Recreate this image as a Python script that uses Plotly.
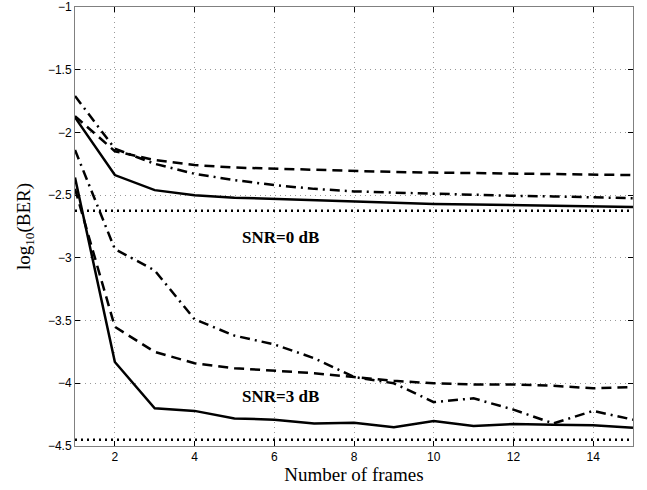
import plotly.graph_objects as go

frames = list(range(1, 16))

snr0_solid = [-1.88, -2.34, -2.46, -2.50, -2.52, -2.53, -2.545, -2.555, -2.56, -2.57, -2.575, -2.58, -2.585, -2.59, -2.595]
snr0_dash = [-1.87, -2.15, -2.22, -2.26, -2.28, -2.29, -2.30, -2.31, -2.315, -2.32, -2.325, -2.33, -2.335, -2.335, -2.34]
snr0_dashdot = [-1.71, -2.13, -2.25, -2.33, -2.38, -2.42, -2.45, -2.47, -2.48, -2.49, -2.50, -2.505, -2.51, -2.52, -2.525]

snr3_solid = [-2.36, -3.83, -4.20, -4.22, -4.28, -4.29, -4.32, -4.315, -4.35, -4.30, -4.34, -4.325, -4.33, -4.335, -4.355]
snr3_dash = [-2.45, -3.55, -3.75, -3.84, -3.88, -3.90, -3.92, -3.95, -3.98, -4.00, -4.01, -4.01, -4.02, -4.04, -4.03]
snr3_dashdot = [-2.14, -2.93, -3.10, -3.49, -3.62, -3.69, -3.80, -3.95, -4.00, -4.15, -4.12, -4.21, -4.32, -4.22, -4.29]

bound0 = -2.625
bound3 = -4.45

x_ticks = [2, 4, 6, 8, 10, 12, 14]
y_ticks = [-4.5, -4, -3.5, -3, -2.5, -2, -1.5, -1]
y_tick_text = ["\u22124.5", "\u22124", "\u22123.5", "\u22123", "\u22122.5", "\u22122", "\u22121.5", "\u22121"]

fig = go.Figure()

def add(y, dash, width=2.5):
    fig.add_trace(go.Scatter(x=frames, y=y, mode="lines",
                             line=dict(color="black", width=width, dash=dash),
                             showlegend=False, hoverinfo="skip"))

add([bound0] * len(frames), "2px,4px", 2.5)
add([bound3] * len(frames), "2px,4px", 2.5)
add(snr0_solid, "solid")
add(snr0_dash, "10px,6px")
add(snr0_dashdot, "10px,5px,2px,5px")
add(snr3_solid, "solid")
add(snr3_dash, "10px,6px")
add(snr3_dashdot, "10px,5px,2px,5px")

fig.add_annotation(x=6.16, y=-2.834, text="<b>SNR=0 dB</b>", showarrow=False,
                   font=dict(family="Liberation Serif", size=17, color="black"))
fig.add_annotation(x=6.16, y=-4.107, text="<b>SNR=3 dB</b>", showarrow=False,
                   font=dict(family="Liberation Serif", size=17, color="black"))

axis_common = dict(showline=True, mirror="ticks", linecolor="#808080", linewidth=1,
                   ticks="inside", ticklen=5, tickcolor="black",
                   showgrid=True, gridcolor="#999999", griddash="1px,4px", gridwidth=1,
                   zeroline=False, automargin=False, ticklabeloverflow="allow",
                   tickfont=dict(family="Liberation Sans", size=12, color="black"))

fig.update_xaxes(range=[1, 15], tickvals=x_ticks,
                 title=dict(text="Number of frames", standoff=0,
                            font=dict(family="Liberation Serif", size=19, color="black")),
                 **axis_common)
fig.update_yaxes(range=[-4.5, -1], tickvals=y_ticks, ticktext=y_tick_text,
                 title=dict(text="log<sub>10</sub>(BER)", standoff=12,
                            font=dict(family="Liberation Serif", size=19, color="black")),
                 **axis_common)

fig.update_layout(width=647, height=490, plot_bgcolor="white", paper_bgcolor="white",
                  margin=dict(l=75, r=14, t=7, b=44))

fig.write_html("out.html", config={"displayModeBar": False},
               post_script="document.body.style.margin='0px';document.body.style.overflow='hidden';")
